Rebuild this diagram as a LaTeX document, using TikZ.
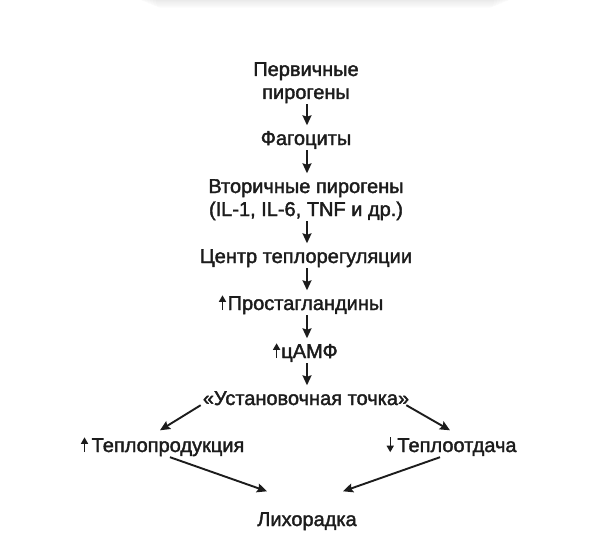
\documentclass[tikz,border=0pt]{standalone}
\usepackage{fontspec}
\setmainfont{Liberation Sans}[FakeBold=1.8]
\usetikzlibrary{arrows.meta}
\definecolor{ink}{HTML}{1C1C1C}
\tikzset{
  lbl/.style={font=\fontsize{20}{23}\selectfont, text=ink, inner sep=0pt,
    text height=14.5pt, text depth=0pt, anchor=base},
  arr/.style={draw=ink, line width=1.9pt,
    -{Stealth[length=10pt,width=9pt,inset=1.5pt]}},
  vlink/.style={arr, shorten <=5pt, shorten >=5pt},
  tiny/.style={draw=ink, line width=1.4pt,
    -{Triangle[length=6.5pt,width=7pt]}}
}
\begin{document}
\begin{tikzpicture}[x=1pt,y=-1pt]
\useasboundingbox (0,0) rectangle (589,535);
\fill[white] (0,0) rectangle (589,535);
\foreach \i in {0,...,6}{
  \fill[black, opacity=0.011, rounded corners=5pt]
    (138+\i*3,-8) rectangle (512-\i*3,1.2*\i+1);
}

\node[lbl] (n1a) at (306,76) {Первичные};
\node[lbl] (n1)  at (306,99) {пирогены};
\node[lbl] (n2)  at (306,145) {Фагоциты};
\node[lbl] (n3a) at (306,193) {Вторичные пирогены};
\node[lbl] (n3)  at (306,216) {(IL-1, IL-6, TNF и др.)};
\node[lbl] (n4)  at (306,263) {Центр теплорегуляции};
\node[lbl] (n5)  at (305.5,310) {Простагландины};
\node[lbl] (n6)  at (309.5,358) {цАМФ};
\node[lbl] (n7)  at (306,405) {«Установочная точка»};
\node[lbl] (tp)  at (168,452) {Теплопродукция};
\node[lbl] (td)  at (457,452) {Теплоотдача};
\node[lbl] (ly)  at (307,526) {Лихорадка};

% small arrows inside the texts
\draw[tiny] ([xshift=-5pt]n5.south west) -- ([xshift=-5pt]n5.north west);
\draw[tiny] ([xshift=-4.5pt]n6.south west) -- ([xshift=-4.5pt]n6.north west);
\draw[tiny] ([xshift=-7pt]tp.south west) -- ([xshift=-7pt]tp.north west);
\draw[tiny] ([xshift=-7pt]td.north west) -- ([xshift=-7pt]td.south west);

\draw[vlink] ([xshift=1pt]n1.south) -- ([xshift=1pt]n2.north);
\draw[vlink] ([xshift=1pt]n2.south) -- ([xshift=1pt]n3a.north);
\draw[vlink] ([xshift=1pt]n3.south) -- ([xshift=1pt]n4.north);
\draw[vlink] ([xshift=1pt]n4.south) -- ([xshift=1.5pt]n5.north);
\draw[vlink] ([xshift=1.5pt]n5.south) -- ([xshift=-2.5pt]n6.north);
\draw[vlink] ([xshift=-2.5pt]n6.south) -- ([xshift=1pt]n7.north);

\draw[arr] ([shift={(-2,0)}]n7.south west) -- ([shift={(-8,-7)}]tp.north);
\draw[arr] ([shift={(-3,0)}]n7.south east) -- ([shift={(-7,-7)}]td.north);
\draw[arr] ([shift={(2,5)}]tp.south) -- ([shift={(-40,-20)}]ly.north);
\draw[arr] ([shift={(-17,5)}]td.south) -- ([shift={(36,-20)}]ly.north);
\end{tikzpicture}
\end{document}
